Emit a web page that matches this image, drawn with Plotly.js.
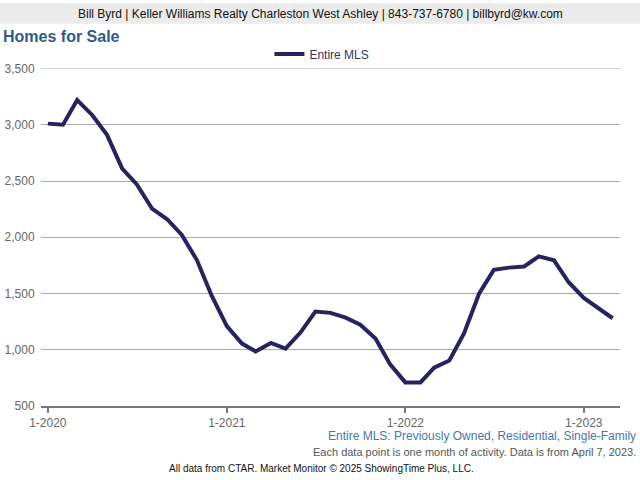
<!DOCTYPE html>
<html>
<head>
<meta charset="utf-8">
<script src="https://cdn.plot.ly/plotly-3.0.1.min.js"></script>
<style>
html,body{margin:0;padding:0;background:#fff;}
#chart{width:640px;height:480px;}
</style>
</head>
<body>
<div id="chart"></div>
<script>
// Data: monthly homes for sale, Entire MLS, 1-2020 .. 3-2023
const months = [
  '2020-01','2020-02','2020-03','2020-04','2020-05','2020-06','2020-07','2020-08','2020-09','2020-10','2020-11','2020-12',
  '2021-01','2021-02','2021-03','2021-04','2021-05','2021-06','2021-07','2021-08','2021-09','2021-10','2021-11','2021-12',
  '2022-01','2022-02','2022-03','2022-04','2022-05','2022-06','2022-07','2022-08','2022-09','2022-10','2022-11','2022-12',
  '2023-01','2023-02','2023-03'
];
const entireMLS = [
  3010, 3000, 3220, 3085, 2910, 2610, 2470, 2255, 2160, 2020, 1795, 1480,
  1210, 1055, 985, 1060, 1010, 1155, 1340, 1328, 1285, 1222, 1100, 870,
  710, 710, 840, 905, 1145, 1500, 1710, 1730, 1740, 1830, 1795, 1600,
  1460, 1360, 1280
];
const yTicks = [500, 1000, 1500, 2000, 2500, 3000, 3500];
const tickVals = ['2020-01-01','2021-01-01','2022-01-01','2023-01-01'];
const tickText = ['1-2020','1-2021','1-2022','1-2023'];
const seriesName = 'Entire MLS';

// plot area in pixels
const L = 41, R = 620, T = 66, B = 406, W = 640, H = 480;
const px2x = p => (p - L) / (R - L);
const px2y = p => (B - p) / (B - T);

const trace = {
  x: months, y: entireMLS, type: 'scatter', mode: 'lines', name: seriesName,
  line: {color: '#26235f', width: 4}
};

const layout = {
  width: W, height: H,
  margin: {l: L, r: W - R, t: T, b: H - B, pad: 0},
  paper_bgcolor: '#ffffff', plot_bgcolor: '#ffffff',
  font: {family: 'Liberation Sans, Arial, sans-serif', size: 12, color: '#666'},
  showlegend: true,
  legend: {
    orientation: 'h', xref: 'container', yref: 'container',
    x: 0.503, xanchor: 'center', y: 1 - 54 / H, yanchor: 'middle',
    font: {size: 12, color: '#2b3a60'}, bgcolor: 'rgba(0,0,0,0)'
  },
  xaxis: {
    type: 'date', range: ['2019-12-18', '2023-03-16'],
    tickmode: 'array', tickvals: tickVals, ticktext: tickText,
    showgrid: false, zeroline: false,
    showline: true, linecolor: '#777', linewidth: 2,
    ticks: 'outside', ticklen: 5, tickwidth: 2, tickcolor: '#777',
    tickfont: {size: 12, color: '#666'}, fixedrange: true
  },
  yaxis: {
    range: [yTicks[0], yTicks[yTicks.length - 1]], tickvals: yTicks,
    tickformat: ',d', showgrid: true, gridcolor: '#aaaaaa', gridwidth: 1,
    zeroline: false, showline: false,
    ticks: 'outside', ticklen: 3, tickcolor: 'rgba(0,0,0,0)',
    tickfont: {size: 12, color: '#666'}, fixedrange: true
  },
  shapes: [
    {type: 'rect', xref: 'paper', yref: 'paper', layer: 'below',
     x0: px2x(0), x1: px2x(W), y0: px2y(0), y1: px2y(21),
     fillcolor: '#ebebeb', line: {width: 0}},
    {type: 'line', xref: 'paper', yref: 'y', layer: 'below',
     x0: 0, x1: 1, y0: yTicks[yTicks.length - 1], y1: yTicks[yTicks.length - 1],
     line: {color: '#aaaaaa', width: 1}}
  ],
  annotations: [
    {xref: 'paper', yref: 'paper', x: px2x(320), y: px2y(11), xanchor: 'center', yanchor: 'middle',
     text: 'Bill Byrd | Keller Williams Realty Charleston West Ashley | 843-737-6780 | billbyrd@kw.com',
     showarrow: false, font: {size: 12, color: '#111'}},
    {xref: 'paper', yref: 'paper', x: px2x(1), y: px2y(34), xanchor: 'left', yanchor: 'middle',
     text: '<b>Homes for Sale</b>', showarrow: false, font: {size: 16, color: '#2f5a86'}},
    {xref: 'paper', yref: 'paper', x: px2x(638), y: px2y(436), xanchor: 'right', yanchor: 'middle',
     text: 'Entire MLS: Previously Owned, Residential, Single-Family',
     showarrow: false, font: {size: 12, color: '#4a76a8'}},
    {xref: 'paper', yref: 'paper', x: px2x(638), y: px2y(452), xanchor: 'right', yanchor: 'middle',
     text: 'Each data point is one month of activity. Data is from April 7, 2023.',
     showarrow: false, font: {size: 11, color: '#555'}},
    {xref: 'paper', yref: 'paper', x: px2x(321), y: px2y(469), xanchor: 'center', yanchor: 'middle',
     text: 'All data from CTAR. Market Monitor © 2025 ShowingTime Plus, LLC.',
     showarrow: false, font: {size: 10, color: '#111'}}
  ]
};

Plotly.newPlot('chart', [trace], layout, {displayModeBar: false, staticPlot: true});
</script>
</body>
</html>
